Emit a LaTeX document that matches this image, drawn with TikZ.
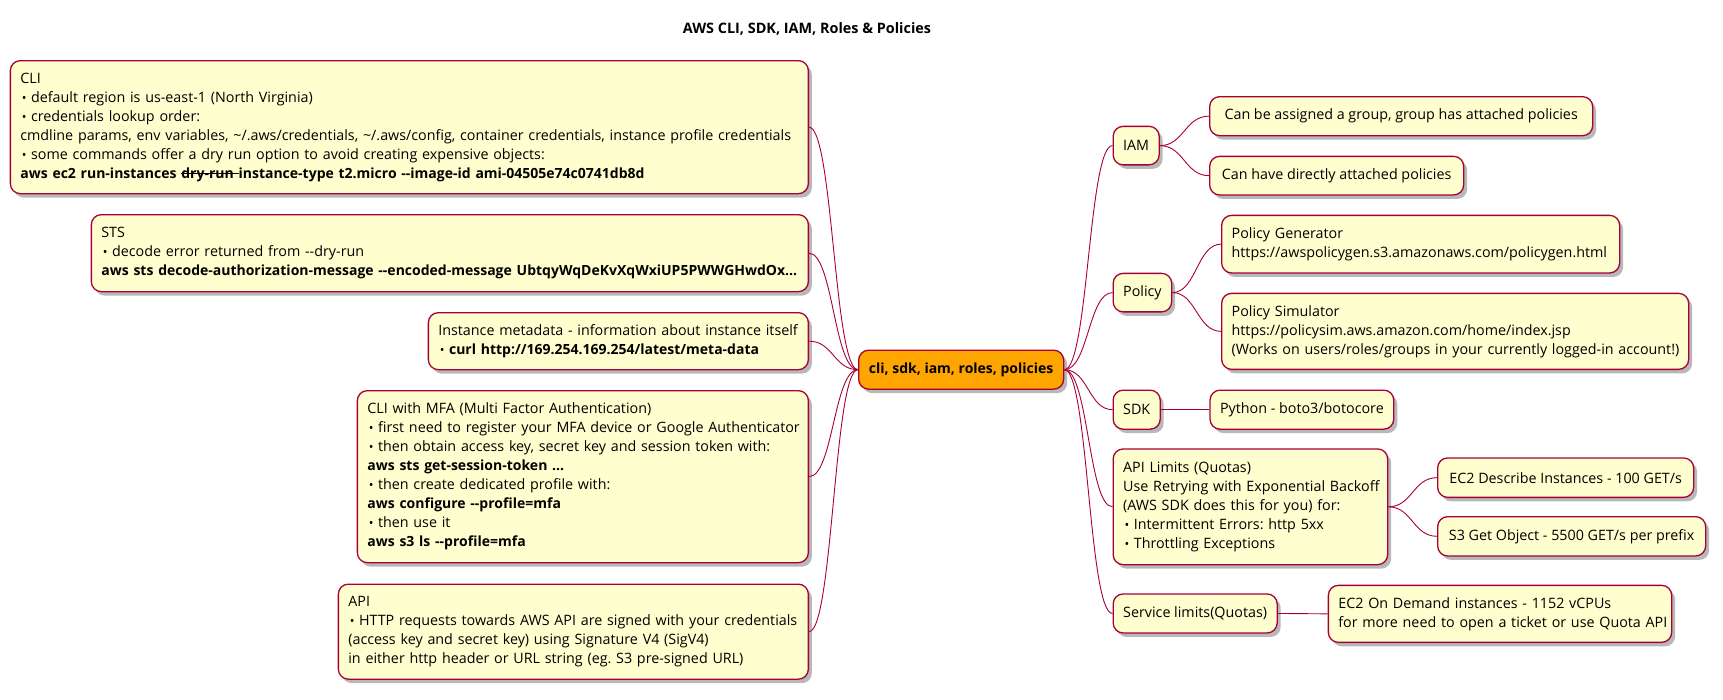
\documentclass[tikz,border=0pt]{standalone}
\usepackage{fontspec}
\setmainfont{Open Sans}
\usetikzlibrary{shadows}
\definecolor{plred}{HTML}{A80036}
\definecolor{plfill}{HTML}{FEFECE}
\definecolor{plorange}{HTML}{FFA500}
\newsavebox\strkbox
\newcommand\mystrike[1]{\sbox\strkbox{#1}\rlap{\usebox\strkbox}\rule[0.3em]{\wd\strkbox}{0.07em}}
\newcommand\bul{\hspace{1.5pt}\raisebox{0.2pt}{\fontsize{12.5}{12}\selectfont\textbullet}\hspace{4.5pt}}
\newcommand\bld[1]{{\fontsize{14}{19}\selectfont\bfseries #1}}
\newcommand\lns[1]{\begin{tabular}{@{}l@{}}#1\end{tabular}}
\tikzset{
 mmbox/.style={draw=plred, fill=plfill, line width=1.3pt, rounded corners=10pt,
   inner xsep=10pt, inner ysep=0pt, align=left,
   font=\fontsize{14.3}{19}\selectfont\frenchspacing,
   drop shadow={shadow xshift=3.5pt, shadow yshift=-4pt, fill=black, opacity=0.28}},
 rootbox/.style={mmbox, fill=plorange, font=\fontsize{14}{19}\selectfont\bfseries, align=center},
 conn/.style={draw=plred, line width=0.9pt},
 curvy/.style={out=0, in=180, out distance=24pt, in distance=24pt},
}
\begin{document}
\begin{tikzpicture}[x=1pt, y=-1pt]
\useasboundingbox (0,0) rectangle (1723,699);
\node[font=\fontsize{14.4}{19}\selectfont\bfseries] (title) at (807,29) {AWS CLI, SDK, IAM, Roles \& Policies};

% root
\node[rootbox, minimum width=205pt, minimum height=39pt, anchor=north west] (root) at (858,349.5) {cli, sdk, iam, roles, policies};

% left side
\node[mmbox, anchor=north east, text width=778pt, minimum height=133pt] (cli) at (809,60) {\lns{CLI\\
\bul default region is us-east-1 (North Virginia)\\
\bul credentials lookup order:\\
cmdline params, env variables, \textasciitilde/.aws/credentials, \textasciitilde/.aws/config, container credentials, instance profile credentials\\
\bul some commands offer a dry run option to avoid creating expensive objects:\\
\bld{aws ec2 run-instances \mystrike{dry-run }instance-type t2.micro -{}-image-id ami-04505e74c0741db8d}}};

\node[mmbox, anchor=north east, text width=697pt, minimum height=77pt] (sts) at (809,214) {\lns{STS\\
\bul decode error returned from -{}-dry-run\\
\bld{aws sts decode-authorization-message -{}-encoded-message UbtqyWqDeKvXqWxiUP5PWWGHwdOx...}}};

\node[mmbox, anchor=north east, text width=360pt, minimum height=57pt] (inst) at (809,312) {\lns{Instance metadata - information about instance itself\\
\bul\bld{curl http://169.254.169.254/latest/meta-data}}};

\node[mmbox, anchor=north east, text width=431pt, minimum height=172pt] (mfa) at (809,390) {\lns{CLI with MFA (Multi Factor Authentication)\\
\bul first need to register your MFA device or Google Authenticator\\
\bul then obtain access key, secret key and session token with:\\
\bld{aws sts get-session-token ...}\\
\bul then create dedicated profile with:\\
\bld{aws configure -{}-profile=mfa}\\
\bul then use it\\
\bld{aws s3 ls -{}-profile=mfa}}};

\node[mmbox, anchor=north east, text width=450pt, minimum height=95pt] (api) at (809,583.5) {\lns{API\\
\bul HTTP requests towards AWS API are signed with your credentials\\
(access key and secret key) using Signature V4 (SigV4)\\
in either http header or URL string (eg. S3 pre-signed URL)}};

% right side, level 1
\node[mmbox, anchor=north west, minimum width=46pt, minimum height=38.5pt, align=center] (iam) at (1112.5,125.7) {IAM};
\node[mmbox, anchor=north west, minimum width=57.5pt, minimum height=38.5pt, align=center] (policy) at (1112.5,272.7) {Policy};
\node[mmbox, anchor=north west, minimum width=46pt, minimum height=39pt, align=center] (sdk) at (1112.5,389.5) {SDK};
\node[mmbox, anchor=north west, text width=254.5pt, minimum height=115.7pt] (apil) at (1112.5,448.3) {\lns{API Limits (Quotas)\\
Use Retrying with Exponential Backoff\\
(AWS SDK does this for you) for:\\
\bul Intermittent Errors: http 5xx\\
\bul Throttling Exceptions}};
\node[mmbox, anchor=north west, minimum width=164pt, minimum height=39pt] (svc) at (1112.5,593.3) {Service limits(Quotas)};

% right side, level 2
\node[mmbox, anchor=north west, minimum width=383pt, minimum height=39pt] (iam1) at (1209,96) {Can be assigned a group, group has attached policies};
\node[mmbox, anchor=north west, minimum width=254pt, minimum height=38.6pt] (iam2) at (1209,155.7) {Can have directly attached policies};
\node[mmbox, anchor=north west, text width=378pt, minimum height=57.6pt] (pgen) at (1221,214.7) {\lns{Policy Generator\\
https://awspolicygen.s3.amazonaws.com/policygen.html}};
\node[mmbox, anchor=north west, text width=447pt, minimum height=76pt] (psim) at (1221,292.7) {\lns{Policy Simulator\\
https://policysim.aws.amazon.com/home/index.jsp\\
(Works on users/roles/groups in your currently logged-in account!)}};
\node[mmbox, anchor=north west, minimum width=180.6pt, minimum height=39pt] (python) at (1209.4,389.5) {Python - boto3/botocore};
\node[mmbox, anchor=north west, minimum width=256pt, minimum height=39.4pt] (ec2d) at (1437,457.3) {EC2 Describe Instances - 100 GET/s};
\node[mmbox, anchor=north west, minimum width=268pt, minimum height=39.3pt] (s3g) at (1437,516) {S3 Get Object - 5500 GET/s per prefix};
\node[mmbox, anchor=north west, text width=323.3pt, minimum height=57pt] (ec2od) at (1327.7,584.7) {\lns{EC2 On Demand instances - 1152 vCPUs\\
for more need to open a ticket or use Quota API}};

% connectors
\draw[conn] (cli.east) to[curvy] (root.west);
\draw[conn] (sts.east) to[curvy] (root.west);
\draw[conn] (inst.east) to[curvy] (root.west);
\draw[conn] (mfa.east) to[curvy] (root.west);
\draw[conn] (api.east) to[curvy] (root.west);
\draw[conn] (root.east) to[curvy] (iam.west);
\draw[conn] (root.east) to[curvy] (policy.west);
\draw[conn] (root.east) to[curvy] (sdk.west);
\draw[conn] (root.east) to[curvy] (apil.west);
\draw[conn] (root.east) to[curvy] (svc.west);
\draw[conn] (iam.east) to[curvy] (iam1.west);
\draw[conn] (iam.east) to[curvy] (iam2.west);
\draw[conn] (policy.east) to[curvy] (pgen.west);
\draw[conn] (policy.east) to[curvy] (psim.west);
\draw[conn] (sdk.east) -- (python.west);
\draw[conn] (apil.east) to[curvy] (ec2d.west);
\draw[conn] (apil.east) to[curvy] (s3g.west);
\draw[conn] (svc.east) -- (ec2od.west);
\end{tikzpicture}
\end{document}
